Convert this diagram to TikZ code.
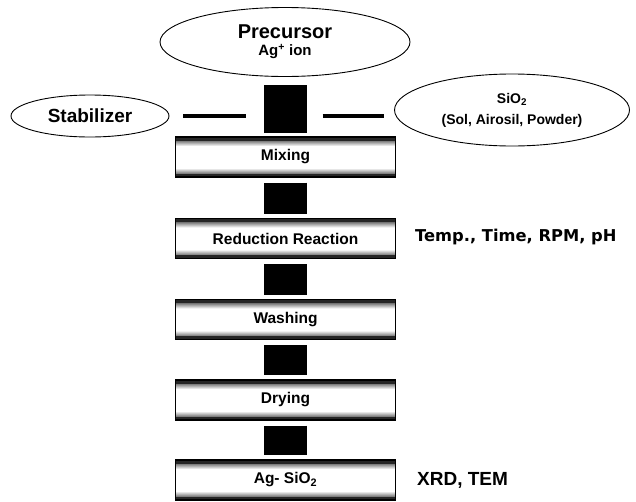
\documentclass[tikz,border=0pt]{standalone}
\usepackage{fontspec}
\setmainfont{Liberation Sans}
\newfontfamily\widesans{DejaVu Sans}
\usetikzlibrary{shapes.geometric,calc}

\begin{document}
\begin{tikzpicture}[x=1pt,y=-1pt,
  oval/.style={ellipse, draw=black, line width=0.9pt, inner sep=0pt, align=center},
  stage/.style={rectangle, draw=black, line width=1.2pt, minimum width=220pt,
    minimum height=40pt, inner sep=0pt,
    font=\bfseries\fontsize{15.5}{17}\selectfont,
    path picture={
      \fill[black!85] (path picture bounding box.north west) rectangle ([yshift=-4pt]path picture bounding box.north east);
      \shade[top color=black!50, bottom color=white] ([yshift=-4pt]path picture bounding box.north west) rectangle ([yshift=-9pt]path picture bounding box.north east);
      \fill[black!85] (path picture bounding box.south west) rectangle ([yshift=4pt]path picture bounding box.south east);
      \shade[bottom color=black!50, top color=white] ([yshift=4pt]path picture bounding box.south west) rectangle ([yshift=9pt]path picture bounding box.south east);
    }},
  blockconn/.style={line width=43pt, black},
  sideline/.style={line width=4pt, black},
  note/.style={anchor=west, inner sep=0pt}
]
\useasboundingbox (0,0) rectangle (636,501);

% raw materials
\node[oval, minimum width=250pt, minimum height=69pt] (pre) at (285,42)
  {{\bfseries\fontsize{20}{22}\selectfont Precursor}\\[5pt]
   {\bfseries\fontsize{15}{16}\selectfont Ag\textsuperscript{+} ion}};
\node[oval, minimum width=158pt, minimum height=42pt,
  font=\bfseries\fontsize{19}{22}\selectfont] (stab) at (90,116) {Stabilizer};
\node[oval, minimum width=235pt, minimum height=72pt,
  font=\bfseries\fontsize{14}{17}\selectfont] (sio) at (512,110)
  {SiO\textsubscript{2}\\[4pt](Sol, Airosil, Powder)};

% feed block into the mixer
\node[fill=black, minimum width=43pt, minimum height=48pt, inner sep=0pt] (feed) at (285,109) {};
\draw[sideline] ([xshift=14pt]stab.east) -- ([xshift=-17pt]stab.east -| feed.west);
\draw[sideline] ([xshift=16pt]feed.east |- stab.east) -- ([xshift=-10pt]sio.west |- stab.east);

% process stages
\node[stage] (mix)  at (285.5,157)   {Mixing};
\node[stage] (red)  at (285.5,238.5) {Reduction Reaction};
\node[stage] (wash) at (285.5,319.5) {Washing};
\node[stage] (dry)  at (285.5,400)   {Drying};
\node[stage] (agsi) at (285.5,480)   {Ag- SiO\textsubscript{2}};

% flow between stages
\draw[blockconn] ([yshift=-5pt]mix.south)  -- ([yshift=4pt]red.north);
\draw[blockconn] ([yshift=-5pt]red.south)  -- ([yshift=4pt]wash.north);
\draw[blockconn] ([yshift=-5pt]wash.south) -- ([yshift=4pt]dry.north);
\draw[blockconn] ([yshift=-5pt]dry.south)  -- ([yshift=4pt]agsi.north);

% conditions and characterisation
\node[note, font=\widesans\bfseries\fontsize{16.3}{19}\selectfont] (cond) at (415,237) {Temp., Time, RPM, pH};
\node[note, font=\bfseries\fontsize{19}{22}\selectfont] (anal) at (417,480) {XRD, TEM};
\end{tikzpicture}
\end{document}
